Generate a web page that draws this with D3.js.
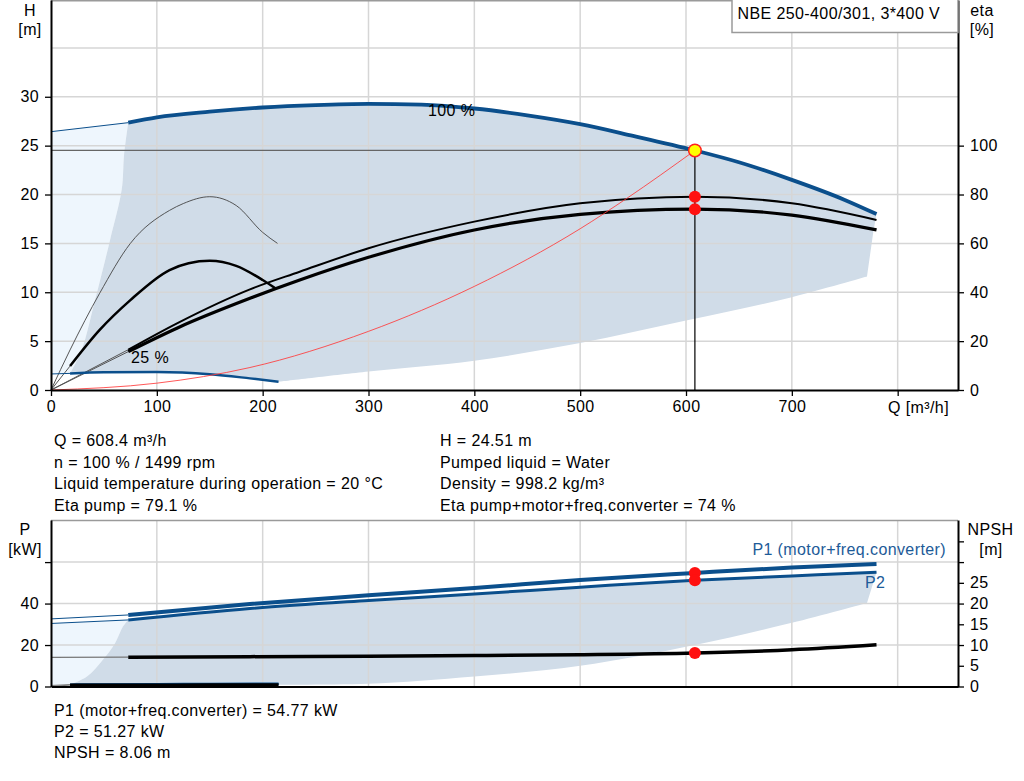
<!DOCTYPE html>
<html><head><meta charset="utf-8">
<script src="https://cdn.jsdelivr.net/npm/d3@7"></script>
<style>
html,body{margin:0;padding:0;background:#fff;}
svg text{font-family:"Liberation Sans",Arial,sans-serif;font-size:16px;fill:#000;letter-spacing:0.4px;}
</style></head>
<body><svg id="c" width="1024" height="781"></svg>
<script>
// ---------- DATA ----------
const qTicks = [0,100,200,300,400,500,600,700,800];
const hTicks = [0,5,10,15,20,25,30];
const etaTicks = [0,20,40,60,80,100];
const pTicks = [0,20,40,60];
const npshTicks = [0,5,10,15,20,25,30,35];
const hGrid = [5,10,15,20,25,30,35];
const pGrid = [20,40,60];

// head 100 %
const qH100Thin = [0,73];           const hH100Thin = [26.43,27.35];
const qH100 = [73,100,150,200,250,300,350,400,450,500,550,608.4,650,700,750,780];
const hH100 = [27.35,27.9,28.48,28.9,29.15,29.27,29.2,28.8,28.1,27.2,26.0,24.51,23.3,21.5,19.45,18.0];
// head 25 %
const qH25Thin = [0,18];            const hH25Thin = [1.64,1.7];
const qH25 = [18,50,100,150,188,215];
const hH25 = [1.7,1.82,1.85,1.62,1.19,0.85];
// eta pump 100 %
const qEpThin = [0,73];             const eEpThin = [0,16.5];
const qEp = [73,120,188,235,300,400,500,608.4,700,780];
const eEp = [16.5,27.5,41.2,48.4,58,68.9,76.4,79.1,76.4,69.6];
// eta pump+motor+fc 100 %
const qEtThin = [0,73];             const eEtThin = [0,15.7];
const qEt = [73,120,188,235,300,400,500,608.4,700,780];
const eEt = [15.7,25.5,37.5,45,54.3,65.5,71.9,74,71.6,65.5];
// eta pump 25 %
const qEp25 = [0,18,46,75,112,125,150,175,200,214];
const eEp25 = [0,16.4,39.6,60,73.5,76.3,79.1,75.5,64.5,60];
// eta total 25 %
const qEt25Thin = [0,18];           const eEt25Thin = [0,9.8];
const qEt25 = [18,46,75,112,130,150,175,200,212];
const eEt25 = [9.8,24.6,36.8,49.1,51.9,52.9,50.8,45,41.6];
// system curve
const qSys = [0,100,188,300,400,500,544,608.4];
const hSys = [0,0.7,2.3,6.0,10.6,16.5,19.6,24.51];
// operating region (head chart)
const qRegRight = [780,777,771];    const hRegRight = [18,16.2,11.6];
const qRegBottom = [771,700,600,500,400,300,215];
const hRegBottom = [11.6,9.5,7.1,4.8,3.0,1.9,0.85];
const qRegLeft = [18,29,41.6,55.8,66.8,69,73];
const hRegLeft = [1.7,4.1,9.2,15.35,20.5,24,27.35];

// power / NPSH
const qPThin = [0,73];
const p1Thin = [32.6,34.5];         const p2Thin = [30.4,32.1];
const qP = [73,188,300,400,500,608.4,700,780];
const p1 = [34.5,39.8,44,47.5,51.4,54.77,57.4,59.1];
const p2 = [32.1,37.6,41.5,44.6,47.9,51.27,53.3,55.1];
const npshThin = [7.0,7.08];
const npsh = [7.08,7.2,7.3,7.45,7.65,8.06,8.85,10.05];
const qP25Thin = [0,18];
const qP25 = [18,100,150,215];
const p1_25 = [0.9,1.1,1.2,1.35];
const p2_25 = [0.7,0.85,0.95,1.05];
const npsh25Thin = [0,0.35];
const npsh25 = [0.35,0.38,0.4,0.45];
// operating region (power chart)
const qPRegRight = [780,771];       const pPRegRight = [55.1,40.3];
const qPRegBottom = [771,700,608.4,500,400,300,215];
const pPRegBottom = [40.3,30.7,20,10,4.8,1.3,0.9];
const qPRegLeft = [18,34,49,60.5,68,73];
const pPRegLeft = [0.9,4.8,12.9,20.9,28.9,32.1];

// duty point
const qDuty = 608.4, hDuty = 24.51, etaPumpDuty = 79.1, etaTotDuty = 74;
const p1Duty = 54.77, p2Duty = 51.27, npshDuty = 8.06;

const infoLeft = ["Q = 608.4 m³/h","n = 100 % / 1499 rpm","Liquid temperature during operation = 20 °C","Eta pump = 79.1 %"];
const infoRight = ["H = 24.51 m","Pumped liquid = Water","Density = 998.2 kg/m³","Eta pump+motor+freq.converter = 74 %"];
const infoBottom = ["P1 (motor+freq.converter) = 54.77 kW","P2 = 51.27 kW","NPSH = 8.06 m"];
const title = "NBE 250-400/301, 3*400 V";

// ---------- SCALES ----------
const svg = d3.select("#c");
const x = d3.scaleLinear().domain([0,857]).range([51,958]);
const yH = d3.scaleLinear().domain([0,39.9]).range([390,0]);
const yEta = d3.scaleLinear().domain([0,159.6]).range([390,0]);
const yP = d3.scaleLinear().domain([0,80.3]).range([686.5,520]);
const yN = d3.scaleLinear().domain([0,40.15]).range([686.5,520]);

const zip = (a,b)=>a.map((v,i)=>[v,b[i]]);
const BLUE = "#0b4f8c", SHADE = "#d0dce8", LIGHT = "#eef6fd", GRID = "#d6d6d6";

function seg(qs, vs, ys, curve){
  return d3.line().x(d=>x(d[0])).y(d=>ys(d[1])).curve(curve||d3.curveCatmullRom.alpha(0.5))(zip(qs,vs));
}
function joinSegs(parts){
  return parts.map((p,i)=> i===0 ? p : p.replace(/^M/,"L")).join("") + "Z";
}
function drawLine(g, qs, vs, ys, color, w){
  return g.append("path").attr("d", seg(qs,vs,ys,d3.curveMonotoneX)).attr("fill","none")
    .attr("stroke",color).attr("stroke-width",w);
}
const rev = a => a.slice().reverse();

// ---------- TOP CHART ----------
const gTop = svg.append("g");
gTop.append("path").attr("fill",LIGHT).attr("d", joinSegs([
  seg([0,0],[hH25Thin[0],hH100Thin[0]], yH, d3.curveLinear),
  seg(qH100Thin,hH100Thin,yH,d3.curveLinear),
  seg(rev(qRegLeft),rev(hRegLeft),yH),
  seg(rev(qH25Thin),rev(hH25Thin),yH,d3.curveLinear)
]));
gTop.append("path").attr("fill",SHADE).attr("d", joinSegs([
  seg(qH100,hH100,yH,d3.curveMonotoneX),
  seg(qRegRight,hRegRight,yH,d3.curveLinear),
  seg(qRegBottom,hRegBottom,yH),
  seg(rev(qH25),rev(hH25),yH),
  seg(qRegLeft,hRegLeft,yH)
]));
gTop.selectAll(".hg").data(hGrid).enter().append("line")
  .attr("x1",x(0)).attr("x2",x(857)).attr("y1",d=>yH(d)).attr("y2",d=>yH(d))
  .attr("stroke",GRID).attr("stroke-width",1.5);
gTop.selectAll(".vg").data(qTicks.slice(1)).enter().append("line")
  .attr("x1",d=>x(d)).attr("x2",d=>x(d)).attr("y1",yH(0)).attr("y2",yH(39.9))
  .attr("stroke",GRID).attr("stroke-width",1.5);
gTop.append("line").attr("x1",x(0)).attr("x2",x(857)).attr("y1",0.75).attr("y2",0.75)
  .attr("stroke","#9a9a9a").attr("stroke-width",1.5);

gTop.append("line").attr("x1",x(0)).attr("x2",x(qDuty)).attr("y1",yH(hDuty)).attr("y2",yH(hDuty))
  .attr("stroke","#666").attr("stroke-width",1.2);
gTop.append("line").attr("x1",x(qDuty)).attr("x2",x(qDuty)).attr("y1",yH(hDuty)).attr("y2",yH(0))
  .attr("stroke","#000").attr("stroke-width",1.2);

drawLine(gTop,qEp25,eEp25,yEta,"#444",0.9);
drawLine(gTop,qEt25Thin,eEt25Thin,yEta,"#555",1);
drawLine(gTop,qEt25,eEt25,yEta,"#000",2.5);
drawLine(gTop,qEpThin,eEpThin,yEta,"#555",1);
drawLine(gTop,qEtThin,eEtThin,yEta,"#555",1);
drawLine(gTop,qEp,eEp,yEta,"#000",2);
drawLine(gTop,qEt,eEt,yEta,"#000",3.2);
drawLine(gTop,qH25Thin,hH25Thin,yH,BLUE,1);
drawLine(gTop,qH25,hH25,yH,BLUE,2.5);
drawLine(gTop,qH100Thin,hH100Thin,yH,BLUE,1);
drawLine(gTop,qH100,hH100,yH,BLUE,3.8);
gTop.append("path").attr("d",seg(qSys,hSys,yH,d3.curveMonotoneX)).attr("fill","none")
  .attr("stroke","#ff3b3b").attr("stroke-width",1).attr("opacity",0.85);

gTop.append("circle").attr("cx",x(qDuty)).attr("cy",yEta(etaPumpDuty)).attr("r",6).attr("fill","#ff1010");
gTop.append("circle").attr("cx",x(qDuty)).attr("cy",yEta(etaTotDuty)).attr("r",6).attr("fill","#ff1010");
gTop.append("circle").attr("cx",x(qDuty)).attr("cy",yH(hDuty)).attr("r",6.3)
  .attr("fill","#ffff00").attr("stroke","#ff2020").attr("stroke-width",1.5);

gTop.append("text").attr("x",428).attr("y",116).text("100 %");
gTop.append("text").attr("x",131).attr("y",362.5).text("25 %");

function styleAxis(g){
  g.selectAll(".domain").attr("stroke","#000").attr("stroke-width",2);
  g.selectAll(".tick line").attr("stroke","#000").attr("stroke-width",1.3);
  g.selectAll(".tick text").attr("font-family","Liberation Sans, Arial, sans-serif").attr("font-size",16).attr("fill","#000");
}
const axL = svg.append("g").attr("transform",`translate(${x(0)},0)`)
  .call(d3.axisLeft(yH).tickValues(hTicks).tickSize(6).tickPadding(6).tickSizeOuter(0));
styleAxis(axL);
const axR = svg.append("g").attr("transform",`translate(${x(857)},0)`)
  .call(d3.axisRight(yEta).tickValues(etaTicks).tickSize(6).tickPadding(6).tickSizeOuter(0));
styleAxis(axR);
const axB = svg.append("g").attr("transform",`translate(0,${yH(0)})`)
  .call(d3.axisBottom(x).tickValues(qTicks).tickSize(6).tickPadding(5).tickSizeOuter(0)
    .tickFormat(d=> d===800 ? "" : d));
styleAxis(axB);
svg.append("text").attr("x",888).attr("y",412.5).text("Q [m³/h]");

svg.append("text").attr("x",30).attr("y",15.5).attr("text-anchor","middle").text("H");
svg.append("text").attr("x",30).attr("y",34.5).attr("text-anchor","middle").text("[m]");
svg.append("text").attr("x",982).attr("y",15.5).attr("text-anchor","middle").text("eta");
svg.append("text").attr("x",982).attr("y",34.5).attr("text-anchor","middle").text("[%]");

svg.append("rect").attr("x",732).attr("y",-2).attr("width",958-732).attr("height",34.5)
  .attr("fill","#fff").attr("stroke","#9a9a9a").attr("stroke-width",1.5);
svg.append("text").attr("x",737.5).attr("y",19).attr("font-size",16.5).text(title);

infoLeft.forEach((t,i)=> svg.append("text").attr("x",54).attr("y",446+i*21.5).text(t));
infoRight.forEach((t,i)=> svg.append("text").attr("x",440).attr("y",446+i*21.5).text(t));
infoBottom.forEach((t,i)=> svg.append("text").attr("x",54).attr("y",716+i*21.2).text(t));

// ---------- BOTTOM CHART ----------
const gB = svg.append("g");
gB.append("path").attr("fill",LIGHT).attr("d", joinSegs([
  seg([0,0],[0.6,p2Thin[0]], yP, d3.curveLinear),
  seg(qPThin,p2Thin,yP,d3.curveLinear),
  seg(rev(qPRegLeft),rev(pPRegLeft),yP),
  seg([18,0],[0.9,0.6],yP,d3.curveLinear)
]));
gB.append("path").attr("fill",SHADE).attr("d", joinSegs([
  seg(qP,p2,yP,d3.curveMonotoneX),
  seg(qPRegRight,pPRegRight,yP,d3.curveLinear),
  seg(qPRegBottom,pPRegBottom,yP),
  seg(rev(qP25),rev(p1_25),yP),
  seg(qPRegLeft,pPRegLeft,yP)
]));
gB.selectAll(".hg").data(pGrid).enter().append("line")
  .attr("x1",x(0)).attr("x2",x(857)).attr("y1",d=>yP(d)).attr("y2",d=>yP(d))
  .attr("stroke",GRID).attr("stroke-width",1.5);
gB.selectAll(".vg").data(qTicks.slice(1)).enter().append("line")
  .attr("x1",d=>x(d)).attr("x2",d=>x(d)).attr("y1",yP(0)).attr("y2",yP(80.3))
  .attr("stroke",GRID).attr("stroke-width",1.5);
gB.append("line").attr("x1",x(0)).attr("x2",x(857)).attr("y1",520.5).attr("y2",520.5)
  .attr("stroke","#9a9a9a").attr("stroke-width",1.5);

drawLine(gB,qP25Thin,[0.5,0.9],yP,"#777",1);
drawLine(gB,qP25,p1_25,yP,BLUE,2.5);
drawLine(gB,qP25,p2_25,yP,BLUE,2);
drawLine(gB,qP25Thin,npsh25Thin,yN,"#777",1);
drawLine(gB,qP25,npsh25,yN,"#000",3);
drawLine(gB,qPThin,npshThin,yN,"#777",1.2);
drawLine(gB,qP,npsh,yN,"#000",3.5);
drawLine(gB,qPThin,p1Thin,yP,BLUE,1);
drawLine(gB,qPThin,p2Thin,yP,BLUE,1);
drawLine(gB,qP,p1,yP,BLUE,4);
drawLine(gB,qP,p2,yP,BLUE,3);

gB.append("circle").attr("cx",x(qDuty)).attr("cy",yP(p1Duty)).attr("r",6).attr("fill","#ff1010");
gB.append("circle").attr("cx",x(qDuty)).attr("cy",yP(p2Duty)).attr("r",6).attr("fill","#ff1010");
gB.append("circle").attr("cx",x(qDuty)).attr("cy",yN(npshDuty)).attr("r",6).attr("fill","#ff1010");

gB.append("text").attr("x",946).attr("y",555).attr("text-anchor","end")
  .style("fill","#1d5b98").text("P1 (motor+freq.converter)");
gB.append("text").attr("x",865).attr("y",588).style("fill","#1d5b98").text("P2");

const bL = svg.append("g").attr("transform",`translate(${x(0)},0)`)
  .call(d3.axisLeft(yP).tickValues(pTicks).tickSize(6).tickPadding(6).tickSizeOuter(0)
   .tickFormat(d=> d===60 ? "" : d));
styleAxis(bL);
const bR = svg.append("g").attr("transform",`translate(${x(857)},0)`)
  .call(d3.axisRight(yN).tickValues(npshTicks).tickSize(6).tickPadding(6).tickSizeOuter(0)
   .tickFormat(d=> d>25 ? "" : d));
styleAxis(bR);
const bB = svg.append("g").attr("transform",`translate(0,${yP(0)})`)
  .call(d3.axisBottom(x).tickValues([]).tickSizeOuter(0));
styleAxis(bB);

svg.append("text").attr("x",25).attr("y",535).attr("text-anchor","middle").text("P");
svg.append("text").attr("x",25).attr("y",555).attr("text-anchor","middle").text("[kW]");
svg.append("text").attr("x",990.5).attr("y",535).attr("text-anchor","middle").text("NPSH");
svg.append("text").attr("x",991).attr("y",555).attr("text-anchor","middle").text("[m]");
</script></body></html>
